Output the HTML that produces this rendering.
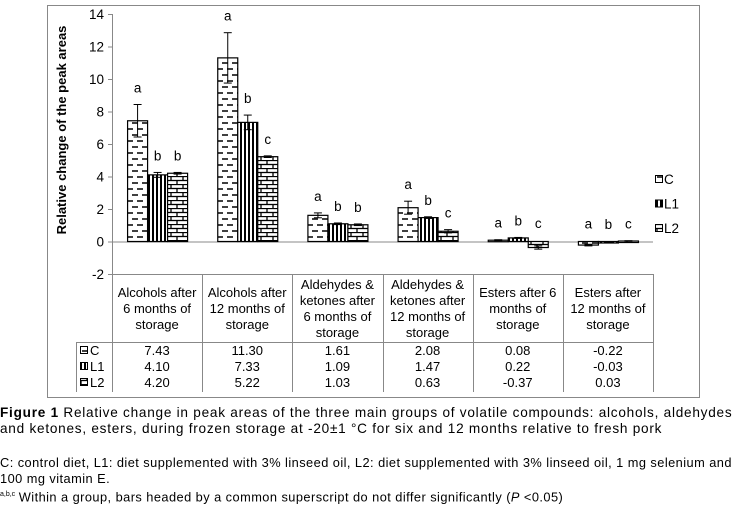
<!DOCTYPE html>
<html><head><meta charset="utf-8"><style>
body{margin:0;background:#fff;width:749px;height:507px;overflow:hidden;font-family:"Liberation Sans",Arial,sans-serif;}
.cap{position:absolute;left:0;font-size:13.6px;color:#000;line-height:16px;width:760px;white-space:nowrap}
</style></head><body>
<svg width="749" height="400" style="position:absolute;left:0;top:0" font-family="Liberation Sans, Arial, sans-serif">
<defs>
<pattern id="pC" width="10" height="12" patternUnits="userSpaceOnUse"><rect width="10" height="12" fill="#fff"/><line x1="2" y1="3" x2="8" y2="3" stroke="#000" stroke-width="1.5"/><line x1="-3" y1="9" x2="3" y2="9" stroke="#000" stroke-width="1.5"/><line x1="7" y1="9" x2="13" y2="9" stroke="#000" stroke-width="1.5"/></pattern>
<pattern id="pL1" width="4" height="4" patternUnits="userSpaceOnUse"><rect width="4" height="4" fill="#fff"/><rect x="0" y="0" width="2" height="4" fill="#000"/></pattern>
<pattern id="pL2" width="12" height="8" patternUnits="userSpaceOnUse"><rect width="12" height="8" fill="#fff"/><line x1="0" y1="0.5" x2="12" y2="0.5" stroke="#000" stroke-width="1.3"/><line x1="0" y1="4.5" x2="12" y2="4.5" stroke="#000" stroke-width="1.3"/><line x1="3" y1="0" x2="3" y2="4" stroke="#000" stroke-width="1.3"/><line x1="9" y1="4" x2="9" y2="8" stroke="#000" stroke-width="1.3"/></pattern>
</defs>
<rect x="47.5" y="5.5" width="652" height="392" fill="none" stroke="#888"/>
<text transform="translate(66,130) rotate(-90)" text-anchor="middle" font-size="13" font-weight="bold">Relative change of the peak areas</text>
<g id="g"></g>
</svg>
<div class="cap" style="top:405px"><span style="letter-spacing:0.75px"><b>Figure 1</b> Relative change in peak areas of the three main groups of volatile compounds: alcohols, aldehydes</span><br><span style="letter-spacing:0.75px">and ketones, esters, during frozen storage at -20±1 °C for six and 12 months relative to fresh pork</span></div>
<div class="cap" style="top:455px;font-size:12.8px"><span style="letter-spacing:0.45px">C: control diet, L1: diet supplemented with 3% linseed oil, L2: diet supplemented with 3% linseed oil, 1 mg selenium and</span><br><span style="letter-spacing:0.45px">100 mg vitamin E.</span><br><sup style="font-size:7px">a,b,c</sup> <span style="letter-spacing:0.45px">Within a group, bars headed by a common superscript do not differ significantly (<i>P</i> &lt;0.05)</span></div>
<script>
const categories=[["Alcohols after","6 months of","storage"],["Alcohols after","12 months of","storage"],["Aldehydes &","ketones after","6 months of","storage"],["Aldehydes &","ketones after","12 months of","storage"],["Esters after 6","months of","storage"],["Esters after","12 months of","storage"]];
const seriesNames=["C","L1","L2"];
const valuesC=[7.43,11.30,1.61,2.08,0.08,-0.22];
const valuesL1=[4.10,7.33,1.09,1.47,0.22,-0.03];
const valuesL2=[4.20,5.22,1.03,0.63,-0.37,0.03];
const labelsC=["7.43","11.30","1.61","2.08","0.08","-0.22"];
const labelsL1=["4.10","7.33","1.09","1.47","0.22","-0.03"];
const labelsL2=["4.20","5.22","1.03","0.63","-0.37","0.03"];
const errC=[1.0,1.55,0.15,0.4,0.03,0.05];
const errL1=[0.15,0.45,0.05,0.05,0.03,0.02];
const errL2=[0.05,0.05,0.05,0.1,0.1,0.02];
const lettersC=["a","a","a","a","a","a"];
const lettersL1=["b","b","b","b","b","b"];
const lettersL2=["b","c","b","c","c","c"];
const yTicks=[-2,0,2,4,6,8,10,12,14];
const NS="http://www.w3.org/2000/svg";
const g=document.getElementById('g');
const x0=112,x1=653,yTop=14,yBot=274;
const y=v=>yBot-(v+2)/16*(yBot-yTop);
const colW=(x1-x0)/categories.length;
function mk(t,a,p){const e=document.createElementNS(NS,t);for(const k in a)e.setAttribute(k,a[k]);(p||g).appendChild(e);return e;}
let ax=mk('line',{x1:x0+.5,y1:yTop,x2:x0+.5,y2:yBot,stroke:'#888'});


yTicks.forEach(t=>{
 const l=mk('line',{x1:x0-4,x2:x0,y1:y(t)+.5,y2:y(t)+.5,stroke:'#888'});
 
 
 const tx=mk('text',{x:x0-8,y:y(t)+5,'text-anchor':'end','font-size':13.5});
 tx.textContent=t;
 
 
});
let zl=mk('line',{x1:x0,x2:x1,y1:y(0)+.5,y2:y(0)+.5,stroke:'#888'});


const series=[[valuesC,errC,lettersC,'pC'],[valuesL1,errL1,lettersL1,'pL1'],[valuesL2,errL2,lettersL2,'pL2']];
const bw=20;
categories.forEach((c,i)=>{
 const cx=x0+colW*(i+.5);
 series.forEach((s,j)=>{
  const v=s[0][i],bx=cx-30+j*bw;
  const top=Math.min(y(v),y(0)),h=Math.max(Math.abs(y(v)-y(0)),1.5);
  const r=mk('rect',{x:bx+.5,y:top,width:bw,height:h,fill:'url(#'+s[3]+')',stroke:'#000','stroke-width':1.2});
  
  
  const e=s[1][i],bxm=bx+bw/2+.5;
  mk('line',{x1:bxm,x2:bxm,y1:y(v+e),y2:y(v-e),stroke:'#000'});
  mk('line',{x1:bxm-4,x2:bxm+4,y1:y(v+e),y2:y(v+e),stroke:'#000'});
  mk('line',{x1:bxm-4,x2:bxm+4,y1:y(v-e),y2:y(v-e),stroke:'#000'});
  const ly=Math.min(y(Math.max(v,0)+e),y(0))-12;
  const lt=mk('text',{x:bxm,y:ly,'text-anchor':'middle','font-size':13.5});
  lt.textContent=s[2][i];
  
  
 });
});
const tb=274,hb=342,rowH=16;
const tableEl=mk('g',{});


for(let i=0;i<=categories.length;i++){const xx=Math.round(x0+colW*i)+.5;mk('line',{x1:xx,x2:xx,y1:tb,y2:hb+3*rowH+2,stroke:'#888'},tableEl);}
mk('line',{x1:x0,x2:x1,y1:tb+.5,y2:tb+.5,stroke:'#888'},tableEl);
mk('line',{x1:76,x2:x1,y1:hb+.5,y2:hb+.5,stroke:'#888'},tableEl);
mk('line',{x1:76.5,x2:76.5,y1:hb,y2:hb+3*rowH+2,stroke:'#888'},tableEl);
categories.forEach((c,i)=>{
 const cx=x0+colW*(i+.5),n=c.length,st=(tb+hb)/2-(n-1)*8+5;
 c.forEach((ln,k)=>{const t=mk('text',{x:cx,y:st+k*16,'text-anchor':'middle','font-size':13},tableEl);t.textContent=ln;
 
 });
});
const labs=[labelsC,labelsL1,labelsL2],pats=['pC','pL1','pL2'];
labs.forEach((arr,j)=>{
 const ry=hb+rowH*j+13;
 mk('rect',{x:80.5,y:ry-8.5,width:7,height:7,fill:'url(#'+pats[j]+')',stroke:'#000'},tableEl);
 const nt=mk('text',{x:90,y:ry,'font-size':13},tableEl);nt.textContent=seriesNames[j];
 
 
 arr.forEach((v,i)=>{const t=mk('text',{x:x0+colW*(i+.5),y:ry,'text-anchor':'middle','font-size':13},tableEl);t.textContent=v;
 
 });
});
seriesNames.forEach((nm,j)=>{
 const ly=184+j*24.5;
 const lg=mk('g',{});
 
 
 mk('rect',{x:655.5,y:ly-8.5,width:7,height:7,fill:'url(#'+pats[j]+')',stroke:'#000'},lg);
 const t=mk('text',{x:664,y:ly,'font-size':13.5},lg);t.textContent=nm;
});
</script>
</body></html>
